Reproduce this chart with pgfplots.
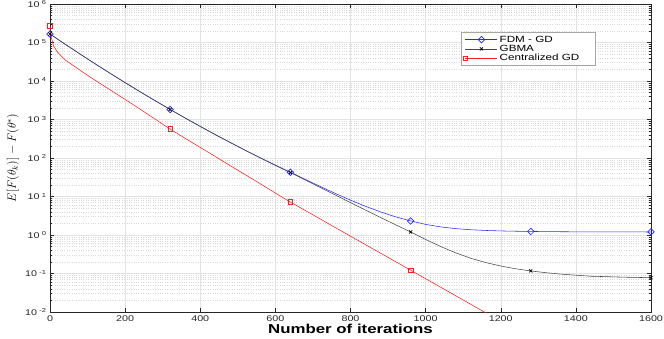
\documentclass[border=0pt]{standalone}
\usepackage{fontspec}
\setmainfont{Liberation Sans}[FakeStretch=1.3]
\usepackage{pgfplots}
\pgfplotsset{compat=1.18}

\definecolor{axgray}{RGB}{38,38,38}
\definecolor{mblue}{RGB}{40,40,255}
\definecolor{mred}{RGB}{255,30,30}

\begin{document}
\begin{tikzpicture}
\begin{axis}[
  scale only axis,
  width=601bp, height=308bp,
  ymode=log,
  xmin=0, xmax=1600, ymin=1e-2, ymax=1e6,
  xtick={0,200,...,1600},
  ytick={1e-2,1e-1,1e0,1e1,1e2,1e3,1e4,1e5,1e6},
  yticklabels={10\textsuperscript{ -2},10\textsuperscript{ -1},10\textsuperscript{ 0},10\textsuperscript{ 1},10\textsuperscript{ 2},10\textsuperscript{ 3},10\textsuperscript{ 4},10\textsuperscript{ 5},10\textsuperscript{ 6}},
  /pgf/number format/assume math mode=true,
  /pgf/number format/set thousands separator={},
  tick label style={font=\fontsize{8.3}{10}\selectfont, text=black!85},
  tick align=inside,
  major tick length=4bp, minor tick length=2bp,
  axis line style={axgray},
  every tick/.style={axgray},
  grid=major,
  major grid style={gray!22, line width=0.5pt},
  yminorgrids=true,
  minor grid style={gray!30, dotted, line width=0.4pt},
  xlabel={Number of iterations},
  xlabel style={font=\bfseries\fontsize{13}{15}\selectfont, yshift=4bp},
  ylabel={$E[F(\theta_k)] - F(\theta^*)$},
  every axis y label/.style={at={(axis description cs:0,0.5)}, xshift=-37bp,
    rotate=90, anchor=center, font=\fontsize{11.5}{13}\selectfont},
  legend cell align=left,
  legend style={at={(0.907,0.909)}, anchor=north east,
    font=\fontsize{9}{9}\selectfont, draw=gray!70, line width=0.5pt,
    inner sep=1.5bp, row sep=-2.5bp},
  legend image code/.code={\draw[mark repeat=2,mark phase=2,#1] plot coordinates {(0bp,0bp) (16bp,0bp) (32bp,0bp)};},
]
% FDM - GD
\addplot[mblue, line width=0.55pt, mark=square, mark size=2.3bp, mark repeat=8, mark phase=1,
  mark options={solid, rotate=45, line width=0.7pt}] coordinates {
  (0,166000)(40,90700)(80,50120)(120,28020)(160,15850)(200,9071)(240,5249)(280,3074)
  (320,1821)(360,1091)(400,661.8)(440,406.2)(480,252.3)(520,158.7)(560,101.1)(600,65.3)
  (640,42.8)(680,27.7)(720,18.1)(760,11.96)(800,8.05)(840,5.56)(880,3.98)(920,2.97)
  (960,2.32)(1000,1.887)(1040,1.622)(1080,1.464)(1120,1.369)(1160,1.3125)(1200,1.276)
  (1240,1.2525)(1280,1.237)(1320,1.225)(1360,1.216)(1400,1.21)(1440,1.205)(1480,1.203)
  (1520,1.201)(1560,1.199)(1600,1.198)};
\addlegendentry{FDM - GD}
% GBMA
\addplot[black!72, line width=0.55pt, mark=x, mark size=2.2bp, mark repeat=8, mark phase=1,
  mark options={solid, black, line width=0.7pt}] coordinates {
  (0,165960)(40,90700)(80,50119)(120,28020)(160,15849)(200,9070)(240,5248)(280,3073)
  (320,1820)(360,1090)(400,660.7)(440,405.1)(480,251.2)(520,157.6)(560,100.0)(600,64.2)
  (640,41.7)(680,26.6)(720,16.98)(760,10.84)(800,6.93)(840,4.44)(880,2.855)(920,1.845)
  (960,1.20)(1000,0.767)(1040,0.502)(1080,0.344)(1120,0.249)(1160,0.1925)(1200,0.1563)
  (1240,0.1325)(1280,0.1167)(1320,0.1049)(1360,0.0964)(1400,0.0903)(1440,0.085)(1480,0.0829)
  (1520,0.0807)(1560,0.0791)(1600,0.078)};
\addlegendentry{GBMA}
% Centralized GD
\addplot[mred, line width=0.55pt, mark=square, mark size=2.3bp, mark indices={1,12,20,28},
  mark options={solid, line width=0.7pt}] coordinates {
  (0,269150)(1,166000)(10,79430)(20,56230)(40,35480)(80,19055)(120,10471)(160,5888)
  (200,3311)(240,1862)(280,1023)(320,562)(360,323.6)(400,188.4)(440,109.6)(480,63.1)
  (520,36.7)(560,21.4)(600,12.3)(640,7.16)(680,4.31)(720,2.59)(760,1.55)(800,0.933)
  (840,0.562)(880,0.337)(920,0.203)(960,0.122)(1000,0.0733)(1040,0.0441)(1080,0.0265)
  (1120,0.01585)(1160,0.00955)(1200,0.00575)};
\addlegendentry{Centralized GD\rule{12bp}{0pt}}
\end{axis}
\pgfresetboundingbox
\path[use as bounding box] (-50bp,-27bp) rectangle (614bp,312bp);
\end{tikzpicture}
\end{document}
